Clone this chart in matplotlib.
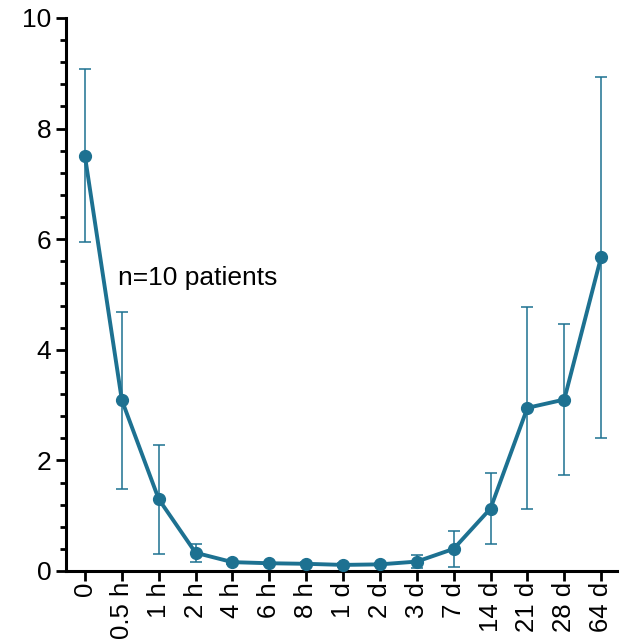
import numpy as np
import matplotlib
matplotlib.use('Agg')
import matplotlib.pyplot as plt
from matplotlib.ticker import MultipleLocator

plt.rcParams['font.family'] = ['Liberation Sans', 'DejaVu Sans']

# data
labels = ['0', '0.5 h', '1 h', '2 h', '4 h', '6 h', '8 h', '1 d', '2 d', '3 d', '7 d', '14 d', '21 d', '28 d', '64 d']
means = [7.50, 3.09, 1.30, 0.33, 0.16, 0.14, 0.13, 0.11, 0.12, 0.17, 0.40, 1.13, 2.95, 3.10, 5.68]
err_hi = [9.08, 4.68, 2.28, 0.49, 0.20, 0.17, 0.16, 0.14, 0.15, 0.29, 0.72, 1.78, 4.77, 4.47, 8.93]
err_lo = [5.95, 1.48, 0.31, 0.16, 0.12, 0.11, 0.10, 0.08, 0.09, 0.05, 0.08, 0.48, 1.13, 1.74, 2.41]

col = '#1d7191'
x = np.arange(len(labels))
means = np.array(means)
yerr = [means - np.array(err_lo), np.array(err_hi) - means]

fig = plt.figure(figsize=(6.26, 6.42), dpi=100)
ax = fig.add_axes([0.1054, 0.1106, 0.8802, 0.8614])

ax.errorbar(x, means, yerr=yerr, fmt='none', ecolor=col, elinewidth=1.1, capsize=4.5, capthick=1.1, zorder=2)
ax.plot(x, means, '-o', color=col, lw=2.8, ms=8.5, zorder=3)

ax.text(0.9, 5.3, 'n=10 patients', fontsize=19, va='center', ha='left')

ax.set_xlim(-0.515, 14.43)
ax.set_ylim(0, 10)
ax.set_xticks(x)
ax.set_xticklabels(labels, rotation=90, fontsize=18.5)
ax.yaxis.set_major_locator(MultipleLocator(2))
ax.yaxis.set_minor_locator(MultipleLocator(0.4))
ax.tick_params(axis='y', labelsize=19)
ax.tick_params(axis='x', pad=1)
ax.tick_params(which='major', width=2, length=7, direction='out')
ax.tick_params(which='minor', width=2, length=4, direction='out')

for s in ['top', 'right']:
    ax.spines[s].set_visible(False)
for s in ['left', 'bottom']:
    ax.spines[s].set_linewidth(2.2)

fig.savefig('out.png', dpi=100)
